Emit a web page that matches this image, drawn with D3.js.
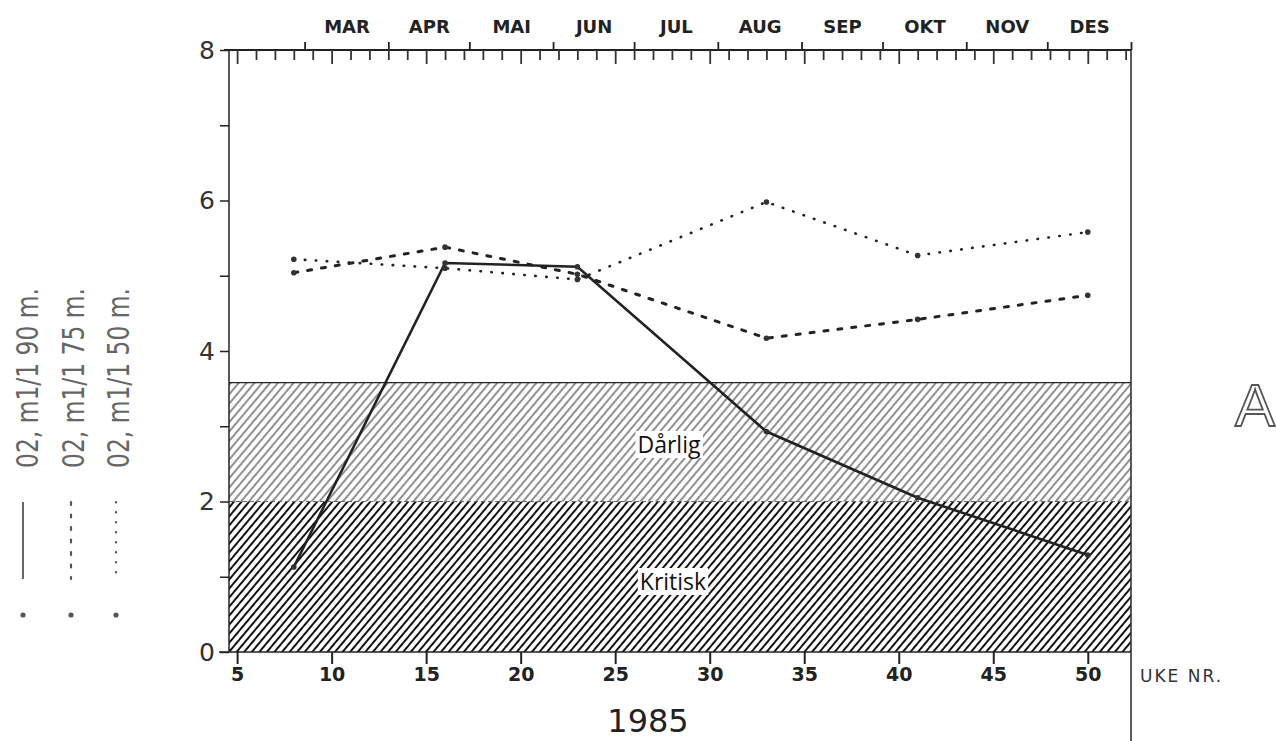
<!DOCTYPE html>
<html><head><meta charset="utf-8">
<script src="https://cdn.jsdelivr.net/npm/d3@7"></script>
<style>body{margin:0;background:#fff}svg{display:block}</style>
</head><body>
<svg id="c" width="1276" height="741"></svg>
<script>
// ---- data ----
const weeks   = [8, 16, 23, 33, 41, 50];
const o2_90m  = [1.13, 5.17, 5.12, 2.93, 2.05, 1.29];
const o2_75m  = [5.04, 5.38, 5.02, 4.17, 4.42, 4.74];
const o2_50m  = [5.22, 5.10, 4.95, 5.98, 5.27, 5.58];
const months  = ["MAR","APR","MAI","JUN","JUL","AUG","SEP","OKT","NOV","DES"];
const monthStartDay = [60, 91, 121, 152, 182, 213, 244, 274, 305, 335, 366]; // day of year 1985
const weekTicks = [5,10,15,20,25,30,35,40,45,50];
const yTicks = [0,1,2,3,4,5,6,7,8];
const yLabels = [0,2,4,6,8];
const bandLimits = {kritisk:[0,2], darlig:[2,3.58]};
const legendLabels = ["02,  m1/1  90 m.", "02,  m1/1  75 m.", "02,  m1/1  50 m."];

const svg = d3.select("#c");
const x = d3.scaleLinear().domain([32, 366]).range([229, 1131]); // day of year
const y = d3.scaleLinear().domain([0, 8]).range([652, 50]);
const wx = w => x(w * 7);

// patterns
const defs = svg.append("defs");
function hatch(id, spacing, width, color){
  const p = defs.append("pattern").attr("id", id).attr("patternUnits","userSpaceOnUse")
    .attr("width", spacing).attr("height", spacing).attr("patternTransform","rotate(40)");
  p.append("line").attr("x1", spacing/2).attr("x2", spacing/2).attr("y1", -1).attr("y2", spacing+1)
    .attr("stroke", color).attr("stroke-width", width);
}
hatch("hd", 6.0, 1.0, "#222");
hatch("hk", 5.8, 2.0, "#111");

// bands
svg.append("rect").attr("x", x(32)).attr("width", x(366)-x(32))
  .attr("y", y(bandLimits.darlig[1])).attr("height", y(bandLimits.darlig[0]) - y(bandLimits.darlig[1]))
  .attr("fill","url(#hd)");
svg.append("rect").attr("x", x(32)).attr("width", x(366)-x(32))
  .attr("y", y(bandLimits.kritisk[1])).attr("height", y(bandLimits.kritisk[0]) - y(bandLimits.kritisk[1]))
  .attr("fill","url(#hk)");
svg.append("line").attr("x1", x(32)).attr("x2", x(366)).attr("y1", y(bandLimits.darlig[1])).attr("y2", y(bandLimits.darlig[1]))
  .attr("stroke","#222").attr("stroke-width",1.3);
svg.append("line").attr("x1", x(32)).attr("x2", x(366)).attr("y1", y(2)).attr("y2", y(2))
  .attr("stroke","#666").attr("stroke-width",1).attr("stroke-dasharray","4,3");

// band labels
function bandLabel(txt, cx, cy){
  const g = svg.append("g");
  const t = g.append("text").attr("x", cx).attr("y", cy).attr("text-anchor","middle")
    .attr("dominant-baseline","central").attr("font-family","Open Sans, Noto Sans, sans-serif")
    .attr("font-size", 23).attr("fill","#111").text(txt);
  const b = t.node().getBBox();
  g.insert("rect","text").attr("x", b.x-2).attr("y", b.y+3).attr("width", b.width+4).attr("height", b.height-5).attr("fill","#fff");
}
bandLabel("Dårlig", 669, 444);
bandLabel("Kritisk", 673, 581);

// axes
const font = "DejaVu Sans, sans-serif";
// left y axis
const ya = svg.append("g").attr("transform",`translate(${x(32)},0)`)
  .call(d3.axisLeft(y).tickValues(yTicks).tickSize(9).tickFormat(d => yLabels.includes(d) ? d : ""));
ya.select(".domain").attr("stroke","#222").attr("stroke-width",1.5).attr("d", `M0,${y(8)}V${y(0)}`);
ya.selectAll(".tick line").attr("stroke","#222").attr("stroke-width",1.5);
ya.selectAll(".tick text").attr("font-family",font).attr("font-size",25).attr("fill","#333").attr("x",-14);

// bottom week axis
const xb = svg.append("g").attr("transform",`translate(0,${y(0)})`)
  .call(d3.axisBottom(x).tickValues(weekTicks.map(w => w*7)).tickSize(12).tickFormat(d => d/7));
xb.select(".domain").attr("stroke","#222").attr("stroke-width",1.5).attr("d", `M${x(32)-10},0H${x(366)}`);
xb.selectAll(".tick line").attr("stroke","#222").attr("stroke-width",2);
xb.selectAll(".tick text").attr("font-family",font).attr("font-weight","bold").attr("font-size",19).attr("fill","#222").attr("y",16);

// top axis: weekly ticks (down), month boundaries (up), month labels
const allWeeks = d3.range(5, 53);
const xt1 = svg.append("g").attr("transform",`translate(0,${y(8)})`)
  .call(d3.axisBottom(x).tickValues(allWeeks.filter(w => w%5 !== 0).map(w => w*7)).tickSize(10).tickFormat(""));
xt1.select(".domain").attr("stroke","#222").attr("stroke-width",1.8).attr("d", `M${x(32)-5},0H${x(366)}`);
xt1.selectAll(".tick line").attr("stroke","#333").attr("stroke-width",1.8);
const xt2 = svg.append("g").attr("transform",`translate(0,${y(8)})`)
  .call(d3.axisBottom(x).tickValues(allWeeks.filter(w => w%5 === 0).map(w => w*7)).tickSize(14).tickFormat(""));
xt2.select(".domain").remove();
xt2.selectAll(".tick line").attr("stroke","#333").attr("stroke-width",1.8);
const xt3 = svg.append("g").attr("transform",`translate(0,${y(8)})`)
  .call(d3.axisTop(x).tickValues(monthStartDay).tickSize(8).tickFormat(""));
xt3.select(".domain").remove();
xt3.selectAll(".tick line").attr("stroke","#222").attr("stroke-width",1.8);
const mids = months.map((m,i) => (monthStartDay[i] + monthStartDay[i+1]) / 2);
const xt4 = svg.append("g").attr("transform",`translate(0,${y(8)-14})`)
  .call(d3.axisTop(x).tickValues(mids).tickSize(0).tickFormat((d,i) => months[i]));
xt4.select(".domain").remove();
xt4.selectAll(".tick text").attr("font-family",font).attr("font-weight","bold").attr("font-size",18).attr("fill","#222");

// right border
svg.append("line").attr("x1", x(366)).attr("x2", x(366)).attr("y1", y(8)).attr("y2", 741)
  .attr("stroke","#333").attr("stroke-width",1.6);

// series
const styles = [
  {vals:o2_90m, dash:null, w:2.6, cap:"butt"},
  {vals:o2_75m, dash:"4,10", w:3, cap:"round"},
  {vals:o2_50m, dash:"0.5,10.5", w:2.6, cap:"round"}
];
const line = d3.line().x(d => wx(d[0])).y(d => y(d[1]));
styles.forEach(s => {
  const pts = weeks.map((w,i) => [w, s.vals[i]]);
  svg.append("path").attr("d", line(pts)).attr("fill","none").attr("stroke","#222")
    .attr("stroke-width", s.w).attr("stroke-dasharray", s.dash).attr("stroke-linecap", s.cap);
  svg.append("g").selectAll("circle").data(pts).join("circle")
    .attr("cx", d => wx(d[0])).attr("cy", d => y(d[1])).attr("r", 2.8).attr("fill","#333");
});

// legend (rotated)
const legX = [38, 84, 129];
const legLineX = [23, 71, 116];
legendLabels.forEach((t,i) => {
  svg.append("text").attr("transform",`translate(${legX[i]},468) rotate(-90)`)
    .attr("font-family","DejaVu Sans, sans-serif").attr("font-size",31).attr("fill","#666")
    .attr("textLength",180).attr("lengthAdjust","spacingAndGlyphs").text(t);
  svg.append("line").attr("x1",legLineX[i]).attr("x2",legLineX[i]).attr("y1",502).attr("y2",579)
    .attr("stroke","#555").attr("stroke-width", i===0 ? 1.8 : 2.2)
    .attr("stroke-dasharray", i===0 ? null : (i===1 ? "3,9.5" : "0.5,9.5")).attr("stroke-linecap", i===0?"butt":"round");
  svg.append("circle").attr("cx",legLineX[i]).attr("cy",615).attr("r",2.6).attr("fill","#555");
});

// texts
svg.append("text").attr("x",1140).attr("y",682).attr("font-family",font).attr("font-size",17)
  .attr("letter-spacing",2).attr("fill","#333").text("UKE NR.");
svg.append("text").attr("x",648).attr("y",732).attr("text-anchor","middle").attr("font-family",font)
  .attr("font-size",32).attr("fill","#222").text("1985");
svg.append("text").attr("x",1255).attr("y",426).attr("text-anchor","middle").attr("font-family","Liberation Sans, sans-serif")
  .attr("font-size",60).attr("fill","#fff").attr("stroke","#555").attr("stroke-width",1.8).text("A");
</script>
</body></html>
